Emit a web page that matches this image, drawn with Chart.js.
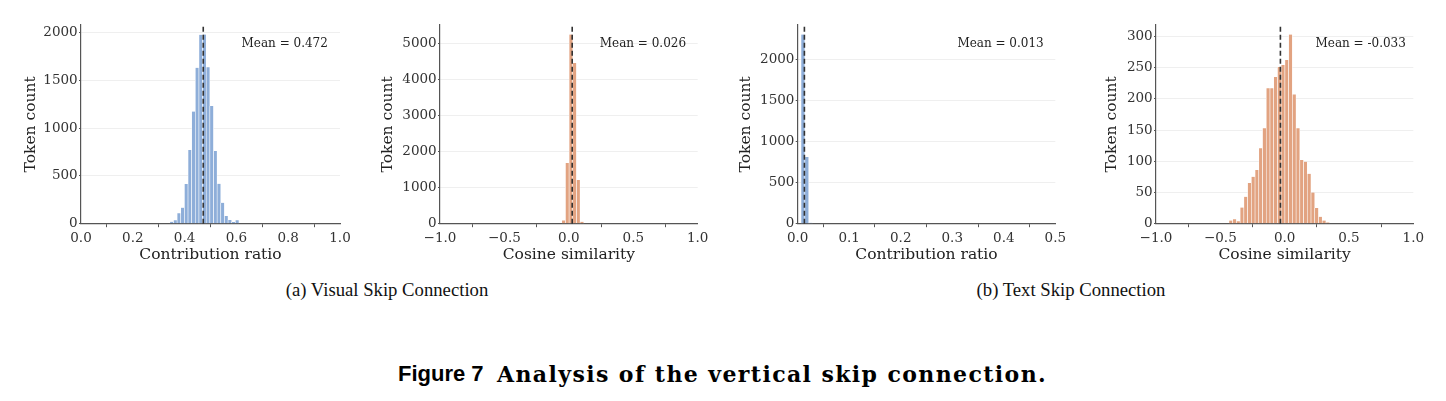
<!DOCTYPE html>
<html>
<head>
<meta charset="utf-8">
<script src="https://cdn.jsdelivr.net/npm/chart.js@4.4.1/dist/chart.umd.min.js"></script>
<style>
  html, body { margin: 0; padding: 0; background: #fff; }
  body { width: 1446px; height: 401px; position: relative; overflow: hidden; }
  canvas { position: absolute; top: 0; }
  .cap { position: absolute; font-family: "Liberation Serif", serif; font-size: 18.7px; line-height: 22px; color: #111; white-space: nowrap; transform: translateX(-50%); }
  .fig { position: absolute; white-space: nowrap; line-height: 28px; color: #000; }
</style>
</head>
<body>
<canvas id="c1" width="360" height="270" style="left:0px"></canvas>
<canvas id="c2" width="360" height="270" style="left:360px"></canvas>
<canvas id="c3" width="360" height="270" style="left:720px"></canvas>
<canvas id="c4" width="366" height="270" style="left:1080px"></canvas>

<div class="cap" style="left:387px; top:279px">(a) Visual Skip Connection</div>
<div class="cap" style="left:1071px; top:279px">(b) Text Skip Connection</div>
<div class="fig" style="left:398px; top:360px; font-family:'Liberation Sans', sans-serif; font-weight:bold; font-size:22px">Figure 7</div>
<div class="fig" style="left:497px; top:360px; font-family:'DejaVu Serif', serif; font-weight:bold; font-size:22px; letter-spacing:1.4px">Analysis of the vertical skip connection.</div>

<script>
// histogram bins: first bin edge, bin width, token count per bin
const visRatioStart = 0.343, visRatioWidth = 0.01405;
const visRatioCounts = [20, 35, 108, 168, 415, 770, 1172, 1630, 1975, 1978, 1635, 1230, 760, 418, 218, 80, 38, 17, 36];

const visCosStart = -0.055, visCosWidth = 0.0285;
const visCosCounts = [90, 1680, 5240, 4450, 1213, 55];

const txtRatioStart = 0.0064, txtRatioWidth = 0.0075;
const txtRatioCounts = [2300, 810, 12];

const txtCosStart = -0.433, txtCosWidth = 0.029;
const txtCosCounts = [5, 7, 4, 26, 43, 65, 75, 86, 121, 153, 217, 217, 235, 251, 254, 262, 303, 207, 153, 102, 99, 80, 50, 25, 11, 5, 2];

const means = [0.472, 0.026, 0.013, -0.033];
const meanLabels = ['Mean = 0.472', 'Mean = 0.026', 'Mean = 0.013', 'Mean = -0.033'];

// tick values and their labels
const ratioTicks = [0, 0.2, 0.4, 0.6, 0.8, 1.0];
const ratioLabels = ['0.0', '0.2', '0.4', '0.6', '0.8', '1.0'];
const ratioSmallTicks = [0, 0.1, 0.2, 0.3, 0.4, 0.5];
const ratioSmallLabels = ['0.0', '0.1', '0.2', '0.3', '0.4', '0.5'];
const cosTicks = [-1, -0.5, 0, 0.5, 1];
const cosLabels = ['\u22121.0', '\u22120.5', '0.0', '0.5', '1.0'];
const yTicks1 = [0, 500, 1000, 1500, 2000];
const yTicks2 = [0, 1000, 2000, 3000, 4000, 5000];
const yTicks3 = [0, 500, 1000, 1500, 2000];
const yTicks4 = [0, 50, 100, 150, 200, 250, 300];

const BLUE = '#8eaed9';
const ORANGE = '#e2a381';
const SERIF = '"DejaVu Serif", serif';

const meanPlugin = {
    id: 'meanLine',
    afterDatasetsDraw(chart, args, o) {
        const { ctx, chartArea: a, scales: { x } } = chart;
        const px = x.getPixelForValue(o.mean);
        ctx.save();
        ctx.strokeStyle = '#333';
        ctx.lineWidth = 1.6;
        ctx.setLineDash([5, 3]);
        ctx.beginPath();
        ctx.moveTo(px, a.bottom);
        ctx.lineTo(px, a.top);
        ctx.stroke();
        ctx.setLineDash([]);
        ctx.fillStyle = '#222';
        ctx.font = '12px ' + SERIF;
        ctx.textBaseline = 'middle';
        ctx.fillText(o.label, a.left + 0.62 * (a.right - a.left), a.top + 18.7);
        ctx.restore();
    }
};

function makePanel(id, p) {
    const data = p.counts.map((c, i) => ({ x: p.start + (i + 0.5) * p.width, y: c }));
    return new Chart(document.getElementById(id), {
        type: 'bar',
        data: {
            datasets: [{
                data: data,
                backgroundColor: p.color,
                borderColor: '#fff',
                borderWidth: { left: 0.6, right: 0.6, top: 0, bottom: 0 },
                barPercentage: 1,
                categoryPercentage: 1
            }]
        },
        plugins: [meanPlugin],
        options: {
            responsive: false,
            animation: false,
            devicePixelRatio: 1,
            layout: { padding: { top: 25, right: p.padRight, left: 0, bottom: 0 } },
            plugins: {
                legend: { display: false },
                tooltip: { enabled: false },
                meanLine: { mean: p.mean, label: p.meanLabel }
            },
            scales: {
                x: {
                    type: 'linear',
                    min: p.xTicks[0],
                    max: p.xTicks[p.xTicks.length - 1],
                    offset: false,
                    z: 1,
                    afterFit: s => { s.height = 46.3; },
                    afterBuildTicks: s => { s.ticks = p.xTicks.map(v => ({ value: v })); },
                    grid: { color: 'rgba(0,0,0,0)', tickColor: '#555', tickLength: 3.5, drawTicks: true },
                    border: { display: true, color: '#555', width: 1.2 },
                    ticks: {
                        autoSkip: false, maxRotation: 0, padding: 2.7,
                        color: '#333', font: { family: SERIF, size: 13.5 },
                        callback: (v, i) => p.xLabels[i]
                    },
                    title: {
                        display: true, text: p.xTitle, color: '#222',
                        font: { family: SERIF, size: 15.5, lineHeight: 1.2 },
                        padding: { top: 0, bottom: 6.2 }
                    }
                },
                y: {
                    min: 0,
                    max: Math.max(...p.counts) * 1.05,
                    z: 1,
                    afterFit: s => { s.width = p.yWidth; },
                    afterBuildTicks: s => { s.ticks = p.yTicks.map(v => ({ value: v })); },
                    grid: { color: '#efefef', tickColor: '#555', tickLength: 2, drawTicks: true, lineWidth: 1 },
                    border: { display: true, color: '#555', width: 1.2 },
                    ticks: {
                        autoSkip: false, padding: 1.3,
                        color: '#333', font: { family: SERIF, size: 13.5 },
                        callback: v => String(v)
                    },
                    title: {
                        display: true, text: 'Token count', color: '#222',
                        font: { family: SERIF, size: 15.5, lineHeight: 1.2 },
                        padding: { top: p.yTitlePad, bottom: 0 }
                    }
                }
            }
        }
    });
}

makePanel('c1', {
    start: visRatioStart, width: visRatioWidth, counts: visRatioCounts, color: BLUE,
    mean: means[0], meanLabel: meanLabels[0],
    xTicks: ratioTicks, xLabels: ratioLabels, xTitle: 'Contribution ratio',
    yTicks: yTicks1, yWidth: 81, yTitlePad: 21.2, padRight: 20
});
makePanel('c2', {
    start: visCosStart, width: visCosWidth, counts: visCosCounts, color: ORANGE,
    mean: means[1], meanLabel: meanLabels[1],
    xTicks: cosTicks, xLabels: cosLabels, xTitle: 'Cosine similarity',
    yTicks: yTicks2, yWidth: 80, yTitlePad: 18.2, padRight: 22.3
});
makePanel('c3', {
    start: txtRatioStart, width: txtRatioWidth, counts: txtRatioCounts, color: BLUE,
    mean: means[2], meanLabel: meanLabels[2],
    xTicks: ratioSmallTicks, xLabels: ratioSmallLabels, xTitle: 'Contribution ratio',
    yTicks: yTicks3, yWidth: 77.7, yTitlePad: 16.2, padRight: 24.7
});
makePanel('c4', {
    start: txtCosStart, width: txtCosWidth, counts: txtCosCounts, color: ORANGE,
    mean: means[3], meanLabel: meanLabels[3],
    xTicks: cosTicks, xLabels: cosLabels, xTitle: 'Cosine similarity',
    yTicks: yTicks4, yWidth: 76, yTitlePad: 22.9, padRight: 32.7
});
</script>
</body>
</html>
